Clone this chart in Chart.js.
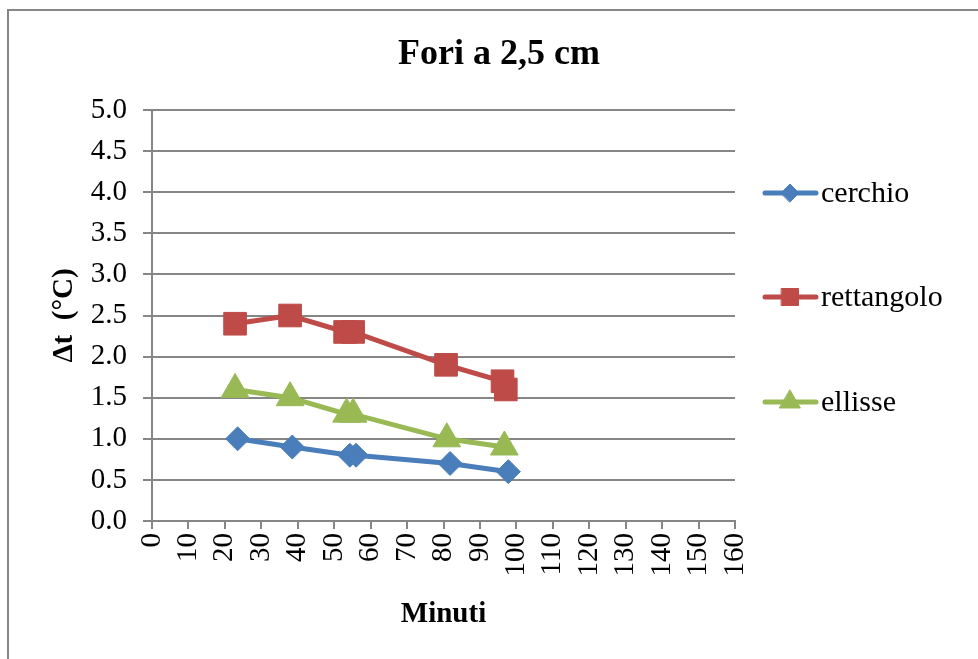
<!DOCTYPE html>
<html>
<head>
<meta charset="utf-8">
<script src="https://cdn.jsdelivr.net/npm/chart.js@4/dist/chart.umd.min.js"></script>
<style>
  html, body { margin: 0; padding: 0; background: #fff; }
  #wrap { width: 978px; height: 659px; }
</style>
</head>
<body>
<div id="wrap"><canvas id="grafico" width="978" height="659"></canvas></div>
<script>
// dati
const xCerchio = [23.5, 38.5, 54.3, 56.0, 81.8, 97.8];
const yCerchio = [1.0, 0.9, 0.8, 0.8, 0.7, 0.6];

const xRettangolo = [22.8, 37.9, 53.0, 55.2, 80.7, 96.2, 97.1];
const yRettangolo = [2.4, 2.5, 2.3, 2.3, 1.9, 1.7, 1.6];

const xEllisse = [22.8, 37.9, 53.4, 55.2, 80.9, 96.7];
const yEllisse = [1.6, 1.5, 1.3, 1.3, 1.0, 0.9];

const nomiSerie = ["cerchio", "rettangolo", "ellisse"];
const coloriSerie = ["#4A7EBB", "#BE4B48", "#98B954"];
const simboliSerie = ["rectRot", "rect", "triangle"];
const raggiSerie = [12, 16, 16];

const titolo = "Fori a 2,5 cm";

const FONT = "'Liberation Serif', 'Times New Roman', serif";
const GRIGIO = "#868686";

function punti(xs, ys) {
  return xs.map((x, i) => ({ x: x, y: ys[i] }));
}

const serie = [punti(xCerchio, yCerchio), punti(xRettangolo, yRettangolo), punti(xEllisse, yEllisse)];

// cornice, sfondo e titolo
const cornice = {
  id: "cornice",
  beforeDraw(chart) {
    const c = chart.ctx;
    c.save();
    c.fillStyle = "#fff";
    c.fillRect(0, 0, chart.width, chart.height);
    c.strokeStyle = GRIGIO;
    c.lineWidth = 2;
    c.strokeRect(8, 10, chart.width + 20, chart.height + 20);
    c.fillStyle = "#000";
    c.font = "bold 36px " + FONT;
    c.textAlign = "center";
    c.textBaseline = "middle";
    c.fillText(titolo, 499, 55);
    c.restore();
  }
};

// legenda a destra, come in Excel
const legenda = {
  id: "legenda",
  afterDraw(chart) {
    const c = chart.ctx;
    const righe = [193, 297, 402];
    chart.data.datasets.forEach((ds, i) => {
      const y = righe[i];
      c.save();
      c.strokeStyle = ds.borderColor;
      c.lineWidth = 5;
      c.lineCap = "round";
      c.beginPath();
      c.moveTo(765, y);
      c.lineTo(816, y);
      c.stroke();
      c.fillStyle = ds.borderColor;
      c.strokeStyle = ds.borderColor;
      c.lineWidth = 1;
      Chart.helpers.drawPoint(c, {
        pointStyle: ds.pointStyle,
        radius: ds.pointRadius * 0.75,
        borderWidth: 1
      }, 790, y);
      c.fillStyle = "#000";
      c.font = "30px " + FONT;
      c.textBaseline = "middle";
      c.fillText(ds.label, 821, y + 1);
      c.restore();
    });
  }
};

const grafico = new Chart(document.getElementById("grafico"), {
  type: "scatter",
  data: {
    datasets: nomiSerie.map((nome, i) => ({
      label: nome,
      data: serie[i],
      showLine: true,
      borderColor: coloriSerie[i],
      backgroundColor: coloriSerie[i],
      borderWidth: 5,
      pointStyle: simboliSerie[i],
      pointRadius: raggiSerie[i],
      pointHoverRadius: raggiSerie[i],
      pointBorderWidth: 1,
      tension: 0
    }))
  },
  options: {
    responsive: false,
    animation: false,
    layout: { padding: { left: 44, right: 243, top: 110, bottom: 27 } },
    plugins: {
      legend: { display: false },
      tooltip: { enabled: false },
      title: { display: false }
    },
    scales: {
      x: {
        type: "linear",
        min: 0,
        max: 160,
        afterFit(s) { s.height = 111; },
        ticks: {
          stepSize: 10,
          autoSkip: false,
          minRotation: 90,
          maxRotation: 90,
          color: "#000",
          padding: 4,
          font: { family: FONT, size: 29 }
        },
        grid: {
          drawOnChartArea: false,
          drawTicks: true,
          tickLength: 8,
          color: GRIGIO,
          lineWidth: 2
        },
        border: { color: GRIGIO, width: 2 },
        title: {
          display: true,
          text: "Minuti",
          color: "#000",
          font: { family: FONT, size: 29, weight: "bold" },
          padding: { top: 0, bottom: 0 }
        }
      },
      y: {
        min: 0,
        max: 5,
        afterFit(s) { s.width = 108; },
        ticks: {
          stepSize: 0.5,
          color: "#000",
          padding: 16,
          font: { family: FONT, size: 29 },
          callback: v => v.toFixed(1)
        },
        grid: {
          color: GRIGIO,
          lineWidth: 2,
          tickLength: 9
        },
        border: { color: GRIGIO, width: 2 },
        title: {
          display: true,
          text: "Δt  (°C)",
          color: "#000",
          font: { family: FONT, size: 29, weight: "bold" },
          padding: { top: 3, bottom: 0 }
        }
      }
    }
  },
  plugins: [cornice, legenda]
});
</script>
</body>
</html>
